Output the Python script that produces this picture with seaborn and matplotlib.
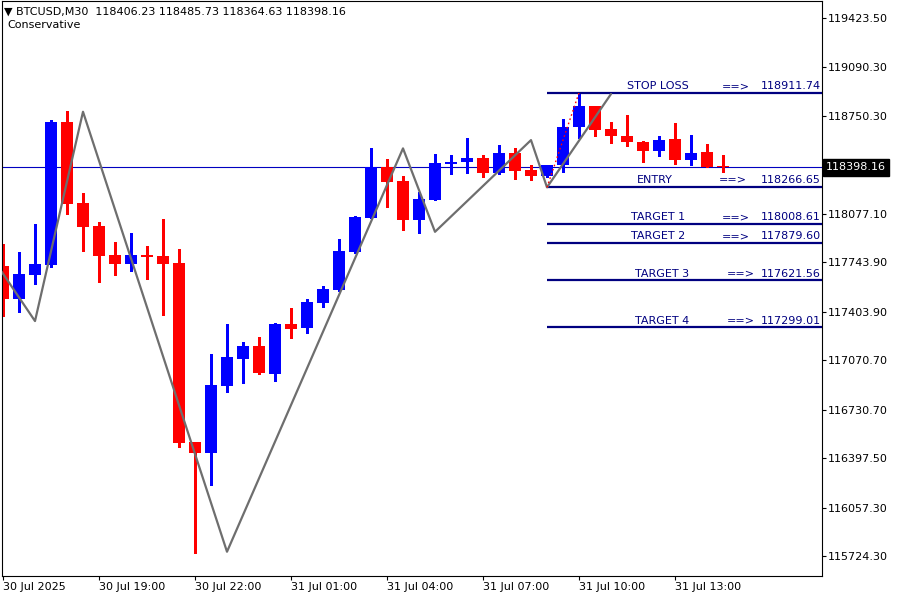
import numpy as np
import pandas as pd
import matplotlib
matplotlib.use('Agg')
import matplotlib.pyplot as plt
import matplotlib.transforms as mtransforms
import seaborn as sns

# BTCUSD M30 candles, 30 Jul 16:00 -> 31 Jul 14:30
bar_idx = list(range(46))
opens = [117722, 117492, 117660, 117728, 118710, 118153, 117995, 117795, 117735, 117795,
         117790, 117740, 116509, 116435, 116896, 117082, 117169, 116978, 117320, 117295,
         117467, 117556, 117818, 118052, 118401, 118304, 118038, 118176, 118421, 118435,
         118462, 118359, 118497, 118380, 118339, 118414, 118676, 118820, 118662, 118614,
         118573, 118511, 118593, 118449, 118504, 118406.23]
highs = [117871, 117816, 118008, 118724, 118786, 118222, 118022, 117885, 117946, 117857,
         118043, 117836, 116512, 117114, 117320, 117197, 117231, 117327, 117430, 117492,
         117582, 117905, 118063, 118531, 118456, 118339, 118229, 118490, 118483, 118600,
         118483, 118552, 118531, 118414, 118418, 118731, 118911, 118824, 118710, 118758,
         118579, 118614, 118703, 118621, 118559, 118485.73]
lows = [117375, 117403, 117596, 117715, 118079, 117823, 117609, 117660, 117687, 117630,
        117382, 116476, 115747, 116215, 116855, 116917, 116978, 116930, 117226, 117260,
        117439, 117550, 117812, 118048, 118127, 117969, 117949, 118172, 118354, 118361,
        118334, 118354, 118320, 118313, 118330, 118368, 118600, 118616, 118566, 118545,
        118435, 118476, 118421, 118414, 118398, 118364.63]
closes = [117492, 117664, 117733, 118710, 118148, 117990, 117790, 117735, 117795, 117783,
          117735, 116504, 116435, 116901, 117093, 117169, 116985, 117320, 117288, 117472,
          117561, 117823, 118057, 118401, 118299, 118038, 118180, 118428, 118435, 118462,
          118359, 118497, 118375, 118341, 118414, 118676, 118820, 118655, 118614, 118573,
          118511, 118586, 118449, 118497, 118401, 118398.16]

# zigzag swing points (bar index, price)
zz_idx = [-1, 2, 5, 14, 25, 27, 33, 34, 38]
zz_price = [117830, 117341, 118781, 115754, 118529, 117955, 118586, 118261, 118903]

# trade levels
level_names = ['STOP LOSS', 'ENTRY', 'TARGET 1', 'TARGET 2', 'TARGET 3', 'TARGET 4']
level_prices = [118911.74, 118266.65, 118008.61, 117879.60, 117621.56, 117299.01]
level_start = 34

price_now = 118398.16
header = '\u25bc BTCUSD,M30  118406.23 118485.73 118364.63 118398.16'

y_ticks = [119423.50, 119090.30, 118750.30, 118077.10, 117743.90, 117403.90,
           117070.70, 116730.70, 116397.50, 116057.30, 115724.30]
x_tick_idx = [0, 6, 12, 18, 24, 30, 36, 42]
x_tick_labels = ['30 Jul 2025', '30 Jul 19:00', '30 Jul 22:00', '31 Jul 01:00',
                 '31 Jul 04:00', '31 Jul 07:00', '31 Jul 10:00', '31 Jul 13:00']

df = pd.DataFrame({'idx': bar_idx, 'open': opens, 'high': highs, 'low': lows, 'close': closes})
df['up'] = df['close'] >= df['open']
df['color'] = np.where(df['up'], '#0000ff', '#ff0000')
df['body_lo'] = df[['open', 'close']].min(axis=1)
df['body_h'] = np.maximum((df['close'] - df['open']).abs(), 6)

sns.set_theme(style='white', rc={'axes.edgecolor': 'black', 'axes.linewidth': 0.8})
plt.rcParams['font.family'] = ['DejaVu Sans']

fig = plt.figure(figsize=(9, 6), dpi=100)
ax = fig.add_axes([2 / 900, 24 / 600, 820 / 900, 575 / 600])
x_left, x_right = -0.0625, 51.1875
ax.set_xlim(x_left, x_right)
ax.set_ylim(115587, 119543)

# current price line (behind candles)
ax.axhline(price_now, color='#0000c0', lw=0.8, zorder=1)

# candles
ax.vlines(df['idx'], df['low'], df['high'], colors=df['color'], lw=0.8, zorder=2,
          antialiased=False)
ax.bar(df['idx'], df['body_h'], bottom=df['body_lo'], width=0.69,
       color=df['color'], linewidth=0, zorder=2, antialiased=False)

# zigzag
sns.lineplot(x=zz_idx, y=zz_price, ax=ax, color='#6e6e6e', lw=1.6,
             estimator=None, sort=False, zorder=4)
# dotted swing line
ax.plot([zz_idx[-2], 36], [zz_price[-2], highs[36]], color='#ff0000', lw=1,
        ls=(0, (1.2, 2)), zorder=4)

# levels
ax.hlines(level_prices, level_start, x_right, color='#000080', lw=1.6, zorder=3)
shift = {'TARGET 3': 0.28, 'TARGET 4': 0.28, 'ENTRY': -0.2}
for name, p in zip(level_names, level_prices):
    s = shift.get(name, 0)
    ax.annotate(name, (40.94 + s, p), xytext=(0, 2.6), textcoords='offset points',
                ha='center', va='baseline', color='#000080', fontsize=8, zorder=5)
    ax.annotate('==>', (44.94 + s, p), xytext=(0, 2.6), textcoords='offset points',
                ha='left', va='baseline', color='#000080', fontsize=8, zorder=5)
    ax.annotate(f'{p:.2f}', (x_right, p), xytext=(-0.8, 2.6), textcoords='offset points',
                ha='right', va='baseline', color='#000080', fontsize=8, zorder=5)

# axes / ticks
ax.yaxis.tick_right()
ax.set_yticks(y_ticks)
ax.set_yticklabels([f'{v:.2f}' for v in y_ticks])
ax.set_xticks(x_tick_idx)
ax.set_xticklabels(x_tick_labels)
plt.setp(ax.get_xticklabels(), ha='left')
ax.tick_params(axis='y', which='both', right=True, left=False, direction='out',
               length=3, width=0.8, pad=1.5, labelsize=8, colors='black')
ax.tick_params(axis='x', which='both', bottom=True, direction='out',
               length=3, width=0.8, pad=1.5, labelsize=8, colors='black')
for sp in ax.spines.values():
    sp.set_visible(True)
    sp.set_color('black')
    sp.set_linewidth(0.8)
ax.set_xlabel('')
ax.set_ylabel('')

# current price box
trans = mtransforms.blended_transform_factory(ax.transAxes, ax.transData)
ax.plot([1.0, 1.0 + 4 / 820], [price_now, price_now], transform=trans, color='black',
        lw=0.8, clip_on=False)
ax.text(1.0 + 4 / 820, price_now, f'{price_now:.2f}', transform=trans, color='white',
        fontsize=8, ha='left', va='center', clip_on=False,
        bbox=dict(boxstyle='square,pad=0.3', fc='black', ec='black'))

# header
fig.text(4 / 900, 1 - 12 / 600, header, fontsize=8, color='black', va='center', ha='left')
fig.text(7 / 900, 1 - 25 / 600, 'Conservative', fontsize=8, color='black', va='center', ha='left')

fig.savefig('out.png', dpi=100)
